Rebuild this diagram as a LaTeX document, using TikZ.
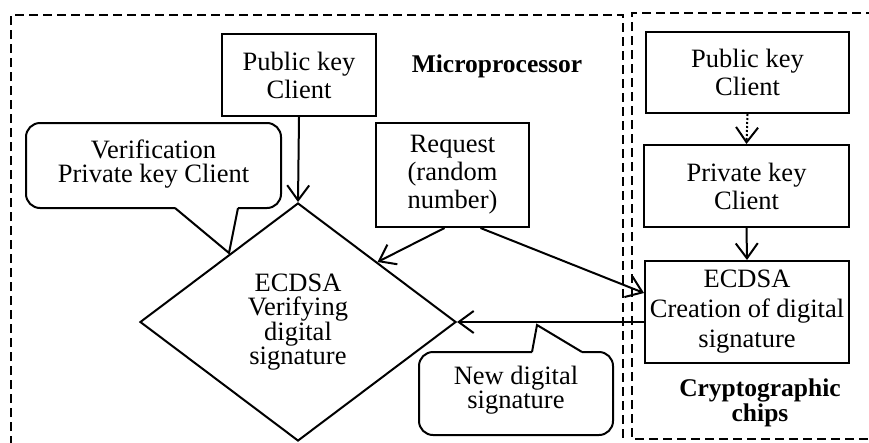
\documentclass[tikz,border=0pt]{standalone}
\usepackage{fontspec}
\setmainfont{Liberation Serif}
\usetikzlibrary{arrows.meta,shapes.geometric,calc}
\begin{document}
\begin{tikzpicture}[x=1pt,y=-1pt,
  lw/.style={line width=2pt},
  txt/.style={font=\fontsize{26.5}{28}\selectfont, align=center, inner sep=0pt},
  box/.style={draw, lw, txt},
  dashbox/.style={lw, dash pattern=on 9pt off 5pt},
  callout/.style={lw, rounded corners=14pt},
  arr/.style={lw, -{Straight Barb[length=15pt,width=22pt,line width=2pt]}},
  lab/.style={font=\bfseries\fontsize{25.5}{20}\selectfont, align=center, inner sep=0pt}
]
\useasboundingbox (0,0) rectangle (869,442);

% group frames
\draw[dashbox] (11,445) -- (11,15) -- (623,15) -- (623,445);
\draw[dashbox] (875,13) -- (632,13) -- (632,439) -- (875,439);

% microprocessor side
\node[box, minimum width=154pt, minimum height=82pt] (pubL) at (299,75) {Public key\\Client};
\node[lab] (micro) at (497,66) {Microprocessor};
\node[box, minimum width=153pt, minimum height=104pt, font=\fontsize{26.5}{28}\selectfont] (req) at (452.5,175) {Request\\(random\\number)};
\node[draw, lw, diamond, minimum width=316pt, minimum height=238pt, inner sep=0pt, align=center,
      font=\fontsize{26.5}{24}\selectfont] (dia) at (298,322) {ECDSA\\Verifying\\digital\\signature};

% verification callout
\draw[callout] (175,208) -- (26,208) -- (26,123) -- (281,123) -- (281,208) -- (238,208);
\draw[lw] (175,208) -- (229,253) -- (238,208);
\node[txt, font=\fontsize{26.5}{24}\selectfont] (verif) at (153.5,164) {Verification\\Private key Client};

% crypto side
\node[box, minimum width=203pt, minimum height=81pt] (pubR) at (747.5,72.5) {Public key\\Client};
\node[box, minimum width=205pt, minimum height=82pt] (priv) at (746.5,186) {Private key\\Client};
\node[box, minimum width=204pt, minimum height=102pt, font=\fontsize{26.5}{30}\selectfont] (cre) at (747,312) {ECDSA\\Creation of digital\\signature};
\node[lab] (crylab) at (760,403) {Cryptographic\\chips};

% new signature callout
\draw[callout] (532,352) -- (419,352) -- (419,435) -- (613,435) -- (613,352) -- (582,352);
\draw[lw] (532,352) -- (537,325) -- (582,352);
\node[txt, font=\fontsize{26.5}{22}\selectfont] (newsig) at (516,390) {New digital\\signature};

% connectors
\draw[arr] (pubL.south) -- (dia.north);
\draw[arr] ($(req.south)+(-8,0)$) -- (dia.north east);
\draw[arr] ($(req.south)+(28,0)$) -- ($(cre.west)+(0,-19)$);
\draw[arr] (cre.west |- dia.east) -- (dia.east);
\draw[arr, dotted] (pubR.south) -- (priv.north);
\draw[arr] (priv.south) -- (cre.north);
\end{tikzpicture}
\end{document}
